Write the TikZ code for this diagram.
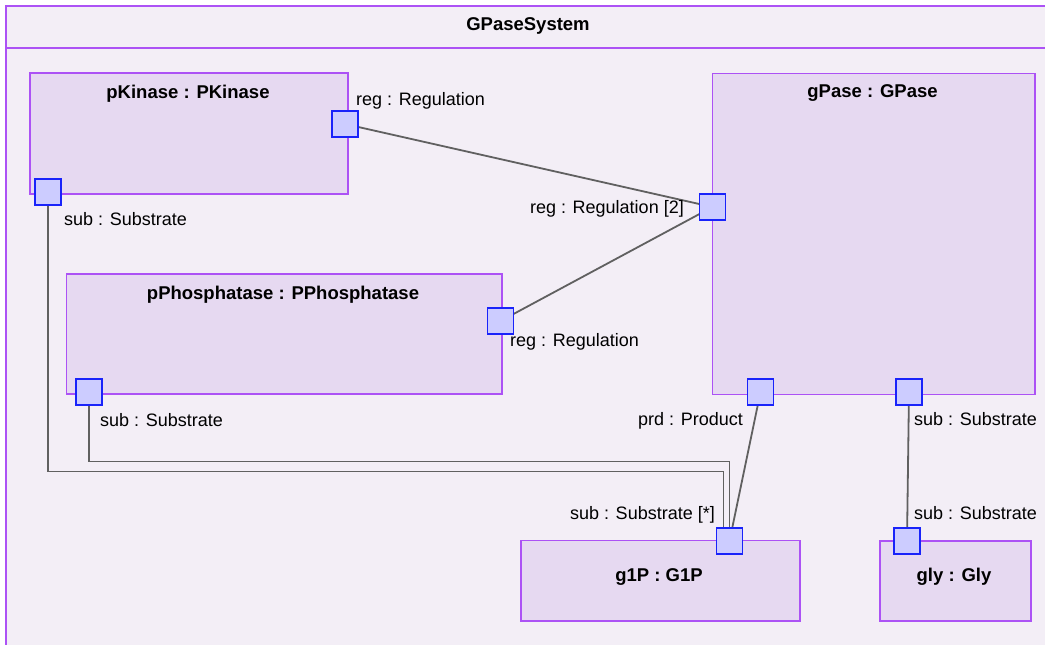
\documentclass[tikz,border=0pt]{standalone}
\usepackage{fontspec}
\setmainfont{Liberation Sans}
\usetikzlibrary{positioning,calc}
\definecolor{umlline}{RGB}{172,82,245}
\definecolor{umlback}{RGB}{243,238,246}
\definecolor{umlpart}{RGB}{230,217,241}
\definecolor{portline}{RGB}{25,35,250}
\definecolor{portfill}{RGB}{204,204,255}
\definecolor{wirecol}{RGB}{96,96,96}
\pgfdeclarelayer{back}
\pgfdeclarelayer{wires}
\pgfsetlayers{back,wires,main}
\tikzset{
	part/.style={draw=umlline, fill=umlpart, line width=1.8pt, inner sep=0pt, anchor=north west},
	port/.style={draw=portline, fill=portfill, line width=1.8pt, minimum size=26pt, inner sep=0pt},
	title/.style={font=\fontsize{18.5}{20}\selectfont\bfseries, inner sep=0pt, anchor=base},
	plabel/.style={font=\fontsize{18}{20}\selectfont, inner sep=0pt},
	wire/.style={draw=wirecol, line width=1.8pt},
}

\begin{document}
\begin{tikzpicture}[x=1pt,y=-1pt]
			\useasboundingbox (0,0) rectangle (1045,645);
			% parts
			\node[part, minimum width=318pt, minimum height=121pt] (pkin) at (29,72) {};
			\node[part, minimum width=435.5pt, minimum height=120pt] (pphos) at (65.5,273) {};
			\node[part, minimum width=322.5pt, minimum height=321pt] (gpase) at (711.5,72.5) {};
			\node[part, minimum width=279pt, minimum height=80.5pt] (g1p) at (520,539.5) {};
			\node[part, minimum width=151pt, minimum height=80pt] (gly) at (879,540) {};
			\node[title] (systitle) at (528,30.5) {GPaseSystem};
			\node[title] (pkintitle) at (188,98.5) {pKinase : PKinase};
			\node[title] (pphostitle) at (283,299.5) {pPhosphatase : PPhosphatase};
			\node[title] (gpasetitle) at (872.5,97.5) {gPase : GPase};
			\node[title] (g1ptitle) at (659,581.5) {g1P : G1P};
			\node[title] (glytitle) at (954,581.5) {gly : Gly};
			% ports
			\node[port] (pkreg) at (345,124) {};
			\node[port] (pksub) at (48,192) {};
			\node[port] (ppreg) at (500.5,321) {};
			\node[port] (ppsub) at (89,392) {};
			\node[port] (gpreg) at (712.5,207) {};
			\node[port] (gpprd) at (760.5,392) {};
			\node[port] (gpsub) at (909,392) {};
			\node[port] (g1psub) at (729.5,541) {};
			\node[port] (glysub) at (907,541) {};
			% port labels
			\node[plabel, anchor=base west] (pkreglbl) at (356,105.5) {reg : Regulation};
			\node[plabel, anchor=base west] (pksublbl) at (64,225.5) {sub : Substrate};
			\node[plabel, anchor=base east] (gpreglbl) at (684,213) {reg : Regulation [2]};
			\node[plabel, anchor=base west] (ppreglbl) at (510,346.5) {reg : Regulation};
			\node[plabel, anchor=base west] (ppsublbl) at (100,426.5) {sub : Substrate};
			\node[plabel, anchor=base east] (gpprdlbl) at (743,425.5) {prd : Product};
			\node[plabel, anchor=base west] (gpsublbl) at (914,425.5) {sub : Substrate};
			\node[plabel, anchor=base east] (g1psublbl) at (715,519.5) {sub : Substrate [*]};
			\node[plabel, anchor=base west] (glysublbl) at (914,519.5) {sub : Substrate};
			\coordinate (kbend) at (723.5,471.5);
			\coordinate (pbend) at (729.5,461.5);

			\begin{pgfonlayer}{back}
				\begin{scope}
				\clip (0,0) rectangle (1045,645);
				\draw[draw=umlline, fill=umlback, line width=2pt] (5.5,5.5) rectangle (1070,670);
				\draw[draw=umlline, line width=2pt] (5.5,47.5) -- (1070,47.5);
				\end{scope}
			\end{pgfonlayer}

			\begin{pgfonlayer}{wires}
			\begin{scope}[wire]
			\draw (pkreg.center) -- (gpreg.center);
			\draw (ppreg.center) -- (gpreg.center);
			\draw (gpprd.center) -- (g1psub.center);
			\draw (gpsub.center) -- (glysub.center);
			\draw (pksub.center) |- (kbend) -- (kbend |- g1psub.center);
			\draw (ppsub.center) |- (pbend) -- (g1psub.center);
			\end{scope}
			\end{pgfonlayer}
\end{tikzpicture}
\end{document}
